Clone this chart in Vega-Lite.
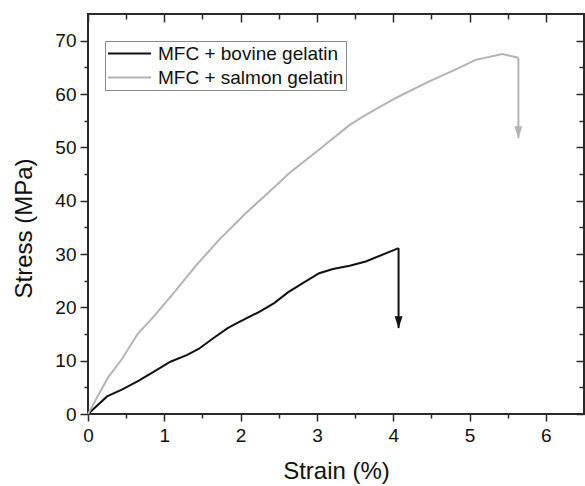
{
  "$schema": "https://vega.github.io/schema/vega-lite/v6.json",
  "width": 496,
  "height": 400,
  "autosize": {"type": "none"},
  "padding": {"left": 88, "top": 14, "right": 1, "bottom": 72},
  "background": "white",
  "config": {
    "view": {"stroke": "#2a2a2a", "strokeWidth": 2},
    "axis": {
      "domain": false,
      "grid": false,
      "labelFont": "Liberation Sans",
      "labelFontSize": 19,
      "labelColor": "#111111",
      "titleFont": "Liberation Sans",
      "titleFontSize": 24,
      "titleFontWeight": "normal",
      "titleColor": "#111111",
      "tickColor": "#2a2a2a",
      "tickWidth": 1.5,
      "labelFlush": false,
      "labelOverlap": false
    },
    "legend": {
      "labelFont": "Liberation Sans",
      "labelFontSize": 19,
      "labelColor": "#111111",
      "labelLimit": 0,
      "symbolType": "stroke",
      "symbolSize": 1849,
      "symbolStrokeWidth": 2,
      "clipHeight": 21,
      "rowPadding": 3,
      "padding": 2,
      "labelOffset": 6,
      "symbolOffset": 0,
      "strokeColor": "#888888",
      "fillColor": "white"
    }
  },
  "datasets": {
    "curves": [
      {"series": "MFC + bovine gelatin", "strain": 0, "stress": 0},
      {"series": "MFC + bovine gelatin", "strain": 0.25, "stress": 3.3},
      {"series": "MFC + bovine gelatin", "strain": 0.45, "stress": 4.6},
      {"series": "MFC + bovine gelatin", "strain": 0.66, "stress": 6.2},
      {"series": "MFC + bovine gelatin", "strain": 0.87, "stress": 8.0},
      {"series": "MFC + bovine gelatin", "strain": 1.08, "stress": 9.8},
      {"series": "MFC + bovine gelatin", "strain": 1.3, "stress": 11.1},
      {"series": "MFC + bovine gelatin", "strain": 1.45, "stress": 12.2},
      {"series": "MFC + bovine gelatin", "strain": 1.65, "stress": 14.3},
      {"series": "MFC + bovine gelatin", "strain": 1.83, "stress": 16.1},
      {"series": "MFC + bovine gelatin", "strain": 1.99, "stress": 17.3},
      {"series": "MFC + bovine gelatin", "strain": 2.25, "stress": 19.2},
      {"series": "MFC + bovine gelatin", "strain": 2.44, "stress": 20.8},
      {"series": "MFC + bovine gelatin", "strain": 2.62, "stress": 22.8},
      {"series": "MFC + bovine gelatin", "strain": 2.82, "stress": 24.6},
      {"series": "MFC + bovine gelatin", "strain": 3.03, "stress": 26.4},
      {"series": "MFC + bovine gelatin", "strain": 3.21, "stress": 27.2},
      {"series": "MFC + bovine gelatin", "strain": 3.43, "stress": 27.8},
      {"series": "MFC + bovine gelatin", "strain": 3.64, "stress": 28.6},
      {"series": "MFC + bovine gelatin", "strain": 4.07, "stress": 31.1},
      {"series": "MFC + salmon gelatin", "strain": 0, "stress": 0},
      {"series": "MFC + salmon gelatin", "strain": 0.26, "stress": 6.8},
      {"series": "MFC + salmon gelatin", "strain": 0.45, "stress": 10.4},
      {"series": "MFC + salmon gelatin", "strain": 0.65, "stress": 15.0},
      {"series": "MFC + salmon gelatin", "strain": 0.88, "stress": 18.6},
      {"series": "MFC + salmon gelatin", "strain": 1.1, "stress": 22.3},
      {"series": "MFC + salmon gelatin", "strain": 1.42, "stress": 27.9},
      {"series": "MFC + salmon gelatin", "strain": 1.72, "stress": 32.7},
      {"series": "MFC + salmon gelatin", "strain": 2.07, "stress": 37.7},
      {"series": "MFC + salmon gelatin", "strain": 2.38, "stress": 41.7},
      {"series": "MFC + salmon gelatin", "strain": 2.64, "stress": 45.2},
      {"series": "MFC + salmon gelatin", "strain": 3.03, "stress": 49.6},
      {"series": "MFC + salmon gelatin", "strain": 3.43, "stress": 54.2},
      {"series": "MFC + salmon gelatin", "strain": 3.64, "stress": 56.1},
      {"series": "MFC + salmon gelatin", "strain": 4.04, "stress": 59.3},
      {"series": "MFC + salmon gelatin", "strain": 4.43, "stress": 62.1},
      {"series": "MFC + salmon gelatin", "strain": 4.82, "stress": 64.6},
      {"series": "MFC + salmon gelatin", "strain": 5.08, "stress": 66.4},
      {"series": "MFC + salmon gelatin", "strain": 5.43, "stress": 67.5},
      {"series": "MFC + salmon gelatin", "strain": 5.64, "stress": 66.8}
    ],
    "arrows": [
      {"series": "MFC + bovine gelatin", "strain": 4.07, "top": 31.1, "tip": 16.1},
      {"series": "MFC + salmon gelatin", "strain": 5.64, "top": 66.8, "tip": 51.7}
    ]
  },
  "resolve": {"axis": {"x": "independent", "y": "independent"}},
  "layer": [
    {
      "data": {"name": "curves"},
      "mark": {"type": "line", "strokeWidth": 2},
      "encoding": {
        "x": {
          "field": "strain", "type": "quantitative",
          "scale": {"domain": [0, 6.5], "nice": false, "zero": false},
          "axis": {"orient": "bottom", "values": [0, 1, 2, 3, 4, 5, 6], "tickSize": 7, "labelPadding": 5, "title": "Strain (%)", "titlePadding": 14}
        },
        "y": {
          "field": "stress", "type": "quantitative",
          "scale": {"domain": [0, 75], "nice": false, "zero": false},
          "axis": {"orient": "left", "values": [0, 10, 20, 30, 40, 50, 60, 70], "tickSize": 8, "labelPadding": 4, "title": "Stress (MPa)", "titlePadding": 18, "titleY": 214}
        },
        "color": {
          "field": "series", "type": "nominal",
          "scale": {"domain": ["MFC + bovine gelatin", "MFC + salmon gelatin"], "range": ["#111111", "#b4b4b4"]},
          "legend": {"orient": "none", "legendX": 17, "legendY": 27, "title": null}
        }
      }
    },
    {
      "data": {"name": "arrows"},
      "mark": {"type": "rule", "strokeWidth": 2},
      "encoding": {
        "x": {
          "field": "strain", "type": "quantitative",
          "scale": {"domain": [0, 6.5], "nice": false, "zero": false},
          "axis": {"orient": "bottom", "values": [0.5, 1.5, 2.5, 3.5, 4.5, 5.5], "tickSize": 4, "labels": false, "title": null}
        },
        "y": {
          "field": "top", "type": "quantitative",
          "scale": {"domain": [0, 75], "nice": false, "zero": false},
          "axis": {"orient": "left", "values": [5, 15, 25, 35, 45, 55, 65], "tickSize": 4, "labels": false, "title": null}
        },
        "y2": {"field": "tip"},
        "color": {"field": "series", "type": "nominal", "legend": null}
      }
    },
    {
      "data": {"name": "arrows"},
      "mark": {"type": "point", "filled": true, "opacity": 1, "size": 576, "strokeWidth": 0, "shape": "M-0.33,-1L0.33,-1L0,0Z"},
      "encoding": {
        "x": {
          "field": "strain", "type": "quantitative",
          "scale": {"domain": [0, 6.5], "nice": false, "zero": false},
          "axis": {"orient": "top", "values": [0, 1, 2, 3, 4, 5, 6], "tickSize": -8, "labels": false, "title": null}
        },
        "y": {
          "field": "tip", "type": "quantitative",
          "scale": {"domain": [0, 75], "nice": false, "zero": false},
          "axis": {"orient": "right", "values": [0, 10, 20, 30, 40, 50, 60, 70], "tickSize": -8, "labels": false, "title": null}
        },
        "color": {"field": "series", "type": "nominal", "legend": null}
      }
    },
    {
      "data": {"name": "curves"},
      "mark": {"type": "point", "opacity": 0},
      "encoding": {
        "x": {
          "field": "strain", "type": "quantitative",
          "scale": {"domain": [0, 6.5], "nice": false, "zero": false},
          "axis": {"orient": "top", "values": [0.5, 1.5, 2.5, 3.5, 4.5, 5.5], "tickSize": -5, "labels": false, "title": null}
        },
        "y": {
          "field": "stress", "type": "quantitative",
          "scale": {"domain": [0, 75], "nice": false, "zero": false},
          "axis": {"orient": "right", "values": [5, 15, 25, 35, 45, 55, 65], "tickSize": -5, "labels": false, "title": null}
        }
      }
    }
  ]
}
